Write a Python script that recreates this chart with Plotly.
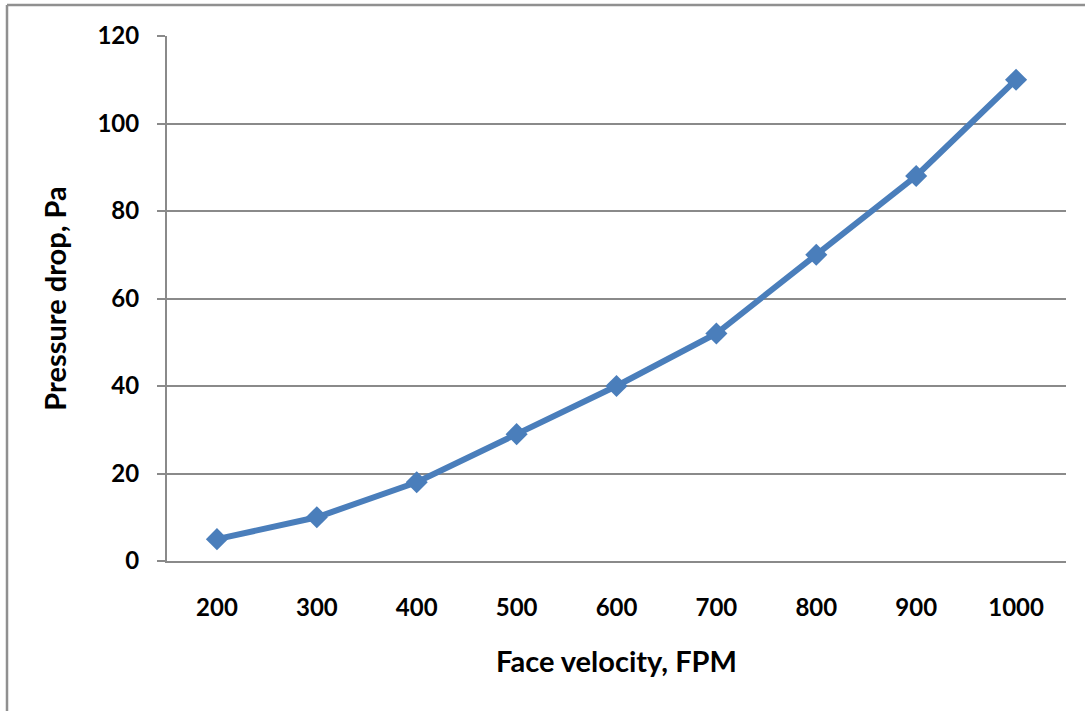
import plotly.graph_objects as go

categories = ["200", "300", "400", "500", "600", "700", "800", "900", "1000"]
pressure_drop = [5, 10, 18, 29, 40, 52, 70, 88, 110]
y_ticks = [0, 20, 40, 60, 80, 100, 120]

W, H = 1085, 711
L, R, T, B = 167, 1085 - 1066, 36, 711 - 561
pw, ph = W - L - R, H - T - B

def px_to_paper_x(px):
    return (px - L) / pw

def py_to_paper_y(py):
    return 1 - (py - T) / ph

font_family = "Lato, 'Open Sans', sans-serif"
grid_col = "#8a8a8a"
blue = "#4a7ebb"

fig = go.Figure()
fig.add_trace(go.Scatter(
    x=categories, y=pressure_drop, mode="lines+markers",
    line=dict(color=blue, width=6),
    marker=dict(symbol="diamond", size=17, color=blue),
    showlegend=False, cliponaxis=False,
))

fig.update_layout(
    width=W, height=H,
    margin=dict(l=L, r=R, t=T, b=B, pad=0),
    paper_bgcolor="white", plot_bgcolor="white",
    font=dict(family=font_family, size=24, color="black"),
    xaxis=dict(
        type="category", range=[-0.5, 8.5],
        showgrid=False, showline=True, linecolor=grid_col, linewidth=2,
        ticks="", ticklabelstandoff=24,
        tickfont=dict(family=font_family, size=24, color="black", weight="bold"),
        title=dict(text="<b>Face velocity, FPM</b>", standoff=32,
                   font=dict(family=font_family, size=29, color="black")),
        zeroline=False,
    ),
    yaxis=dict(
        range=[0, 120], tickvals=y_ticks,
        showgrid=True, gridcolor=grid_col, gridwidth=1.5,
        showline=True, linecolor=grid_col, linewidth=2,
        ticks="outside", ticklen=8, tickcolor=grid_col, tickwidth=2,
        ticklabelstandoff=13,
        tickfont=dict(family=font_family, size=24, color="black", weight="bold"),
        title=dict(text="<b>Pressure drop, Pa</b>", standoff=22,
                   font=dict(family=font_family, size=29, color="black")),
        zeroline=False,
    ),
)

# x-axis line extends left to the y tick mark
fig.add_shape(type="line", xref="paper", yref="paper",
              x0=px_to_paper_x(159), x1=0, y0=0, y1=0,
              line=dict(color=grid_col, width=2))

# chart-area border (left and top edges visible)
bx = px_to_paper_x(7)
by = py_to_paper_y(5)
fig.add_shape(type="line", xref="paper", yref="paper",
              x0=bx, x1=bx, y0=py_to_paper_y(720), y1=by,
              line=dict(color="#909090", width=2.5))
fig.add_shape(type="line", xref="paper", yref="paper",
              x0=bx, x1=px_to_paper_x(1100), y0=by, y1=by,
              line=dict(color="#909090", width=2.5))

fig.write_html("out.html", config={"displayModeBar": False},
               post_script="document.body.style.margin='0';document.body.style.overflow='hidden';")
